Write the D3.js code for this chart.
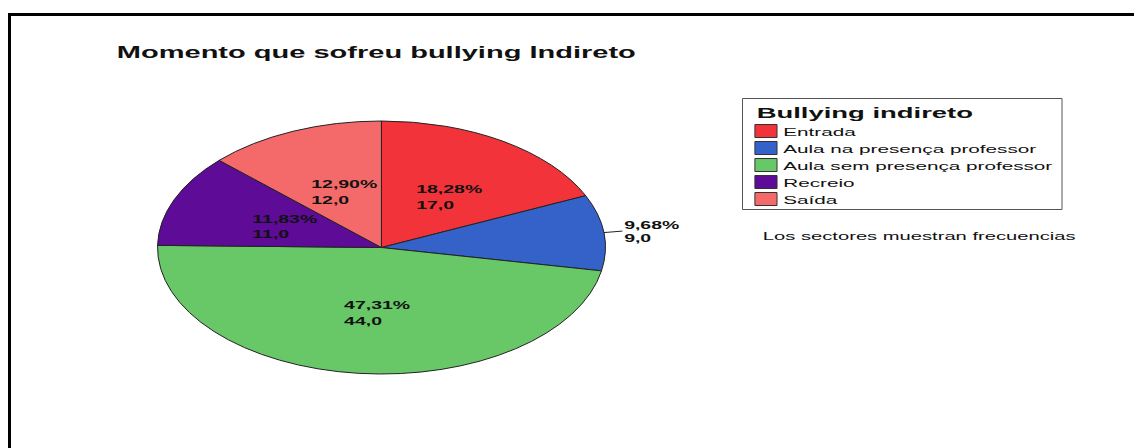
<!DOCTYPE html>
<html>
<head>
<meta charset="utf-8">
<script src="https://cdn.jsdelivr.net/npm/d3@7"></script>
<style>
  body { margin: 0; background: #fff; }
  text { font-family: "Liberation Sans", Arial, sans-serif; }
</style>
</head>
<body>
<div id="chart"></div>
<script>
// Chart data
var categories = ["Entrada", "Aula na presença professor", "Aula sem presença professor", "Recreio", "Saída"];
var counts = [17, 9, 44, 11, 12];
var colors = ["#f2343a", "#3562c8", "#68c868", "#5e0b98", "#f46a6a"];

var svgWidth = 1134;
var svgHeight = 448;

// The original picture is stretched horizontally, so draw in a narrow space and scale x
var stretch = 1.77;

var svg = d3.select("#chart")
  .append("svg")
  .attr("width", svgWidth)
  .attr("height", svgHeight);

// frame lines (top and left only are visible)
svg.append("path")
  .attr("d", `M9.5,${svgHeight} L9.5,14.5 L${svgWidth},14.5`)
  .attr("fill", "none")
  .attr("stroke", "#000")
  .attr("stroke-width", 3);

var g = svg.append("g").attr("transform", `scale(${stretch},1)`);

// title
g.append("text")
  .attr("x", 66)
  .attr("y", 58)
  .style("font-size", "16.4px")
  .style("font-weight", "bold")
  .attr("fill", "#111")
  .text("Momento que sofreu bullying Indireto");

// pie
var radius = 126.5;
var pieGroup = g.append("g").attr("transform", `translate(215.5, 247.5)`);

var total = d3.sum(counts);
var pie = d3.pie().sort(null).value((d) => d);
var arc = d3.arc().innerRadius(0).outerRadius(radius);
var arcs = pie(counts);

var color = d3.scaleOrdinal().domain(d3.range(categories.length)).range(colors);

pieGroup.selectAll("path.slice")
  .data(arcs)
  .enter()
  .append("path")
  .attr("class", "slice")
  .attr("d", arc)
  .attr("fill", (d, i) => color(i))
  .attr("stroke", "#222")
  .attr("stroke-width", 1)
  .attr("vector-effect", "non-scaling-stroke");

function fmtPct(v) {
  return (v / total * 100).toFixed(2).replace(".", ",") + "%";
}
function fmtVal(v) {
  return v.toFixed(1).replace(".", ",");
}

// slice labels
arcs.forEach(function (d, i) {
  var pct = d.value / total * 100;
  var mid = (d.startAngle + d.endAngle) / 2;
  var lbl;
  if (pct < 10) {
    // small slice: label outside with a short leader line
    var ex = Math.sin(mid) * radius;
    var ey = -Math.cos(mid) * radius;
    pieGroup.append("line")
      .attr("x1", ex).attr("y1", ey)
      .attr("x2", ex + 10.5).attr("y2", ey - 1.5)
      .attr("stroke", "#222")
      .attr("stroke-width", 1)
      .attr("vector-effect", "non-scaling-stroke");
    lbl = pieGroup.append("g").attr("transform", `translate(${ex + 11.5}, ${ey})`);
    lbl.append("text").attr("y", -3.5).text(fmtPct(d.value));
    lbl.append("text").attr("y", 9.5).text(fmtVal(d.value));
    lbl.selectAll("text")
      .style("font-size", "11px")
      .style("font-weight", "bold")
      .attr("fill", "#111");
  } else {
    var c = arc.centroid(d);
    lbl = pieGroup.append("g");
    var pctText = lbl.append("text").attr("y", -1).text(fmtPct(d.value));
    var valText = lbl.append("text").attr("y", 14.5).text(fmtVal(d.value));
    lbl.selectAll("text")
      .style("font-size", "11px")
      .style("font-weight", "bold")
      .attr("fill", "#111");
    // left-aligned block, shifted by the mean half-width of its two lines
    var wp = pctText.node().getBBox().width;
    var wv = valText.node().getBBox().width;
    lbl.attr("transform", `translate(${c[0] - (wp + wv) / 4}, ${c[1]})`);
  }
});

// legend
var legend = g.append("g").attr("transform", "translate(419.5, 98.5)");

legend.append("rect")
  .attr("width", 180.5)
  .attr("height", 111)
  .attr("fill", "#fff")
  .attr("stroke", "#555")
  .attr("stroke-width", 1)
  .attr("vector-effect", "non-scaling-stroke");

legend.append("text")
  .attr("x", 8)
  .attr("y", 19.5)
  .style("font-size", "15.5px")
  .style("font-weight", "bold")
  .attr("fill", "#111")
  .text("Bullying indireto");

var rows = legend.selectAll("g.item")
  .data(categories)
  .enter()
  .append("g")
  .attr("class", "item")
  .attr("transform", (d, i) => `translate(7, ${32.5 + i * 17})`);

rows.append("rect")
  .attr("x", 0)
  .attr("y", -6.5)
  .attr("width", 12.5)
  .attr("height", 13)
  .attr("fill", (d, i) => color(i))
  .attr("stroke", "#333")
  .attr("stroke-width", 1)
  .attr("vector-effect", "non-scaling-stroke");

rows.append("text")
  .attr("x", 16)
  .attr("y", 4.5)
  .style("font-size", "11.7px")
  .attr("fill", "#111")
  .text((d) => d);

// footnote
g.append("text")
  .attr("x", 431)
  .attr("y", 240)
  .style("font-size", "11.4px")
  .attr("fill", "#111")
  .text("Los sectores muestran frecuencias");
</script>
</body>
</html>
